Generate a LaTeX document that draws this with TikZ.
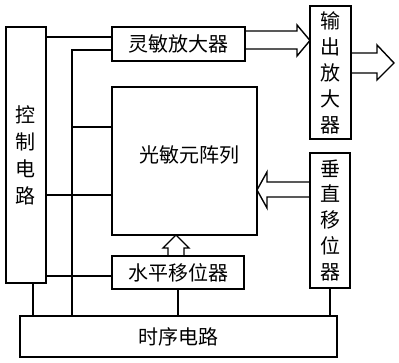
\documentclass[tikz,border=0pt]{standalone}
\usepackage{fontspec}
\setmainfont{Noto Sans CJK SC}

\begin{document}
\begin{tikzpicture}[x=1pt, y=-1pt, line join=miter, font=\fontsize{20}{27}\selectfont,
    blk/.style={draw, line width=1.6pt, inner sep=0pt, align=center},
    wire/.style={line width=1.4pt},
    hollow/.style={line width=1.4pt, line join=miter}]
    \useasboundingbox (0,0) rectangle (399,363);
    % blocks
    \node[blk, minimum width=40, minimum height=256] (ctrl) at (26,155) {控\\制\\电\\路};
    \node[blk, minimum width=133, minimum height=34] (amp) at (178.5,44) {灵敏放大器};
    \node[blk, minimum width=41, minimum height=133, font=\fontsize{20}{26}\selectfont] (out) at (330.5,72.5) {输\\出\\放\\大\\器};
    \node[blk, minimum width=145, minimum height=148,
        label={[xshift=5pt, yshift=6pt]center:光敏元阵列}] (arr) at (184.5,161) {};
    \node[blk, minimum width=40, minimum height=135, font=\fontsize{20}{26}\selectfont] (ver) at (330,220.5) {垂\\直\\移\\位\\器};
    \node[blk, minimum width=132, minimum height=33] (hor) at (178,272.5) {水平移位器};
    \node[blk, minimum width=317, minimum height=41] (tim) at (178.5,336.5) {时序电路};
    % wires
    \coordinate (bustop) at (72,50);
    \coordinate (r1) at (0,37);
    \coordinate (r2) at (0,127);
    \coordinate (r3) at (0,195);
    \coordinate (r4) at (0,276);
    \coordinate (c1) at (33,0);
    \draw[wire] (ctrl.east |- r1) -- (amp.west |- r1);
    \draw[wire] (amp.west |- bustop) -- (bustop) -- (bustop |- tim.north);
    \draw[wire] (bustop |- r2) -- (arr.west |- r2);
    \draw[wire] (ctrl.east |- r3) -- (arr.west |- r3);
    \draw[wire] (ctrl.east |- r4) -- (hor.west |- r4);
    \draw[wire] (c1 |- ctrl.south) -- (c1 |- tim.north);
    \draw[wire] (hor.south) -- (hor.south |- tim.north);
    \draw[wire] (ver.south) -- (ver.south |- tim.north);
    % hollow arrows
    \draw[hollow] (245,31) -- (297,31) -- (297,25) -- (310,40.5) -- (297,56) -- (297,49) -- (245,49);
    \draw[hollow] (351,53) -- (377,53) -- (377,45) -- (394,63) -- (377,80) -- (377,73) -- (351,73);
    \draw[hollow] (310,182) -- (267,182) -- (267,172) -- (257,190) -- (267,208) -- (267,197) -- (310,197);
    \draw[hollow] (168,256) -- (168,248) -- (163,248) -- (176,235) -- (189,248) -- (184,248) -- (184,256);
\end{tikzpicture}
\end{document}
